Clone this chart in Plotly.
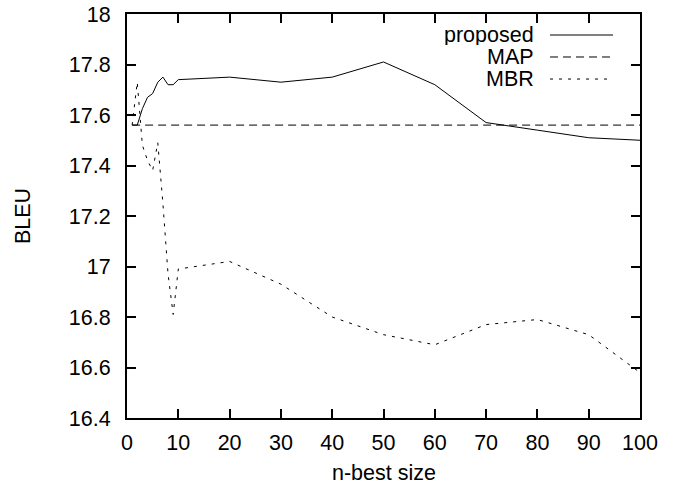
import plotly.graph_objects as go

# ---- data ----
prop_x = [1, 2, 3, 4, 5, 6, 7, 8, 9, 10, 20, 30, 40, 50, 60, 70, 80, 90, 100]
prop_y = [17.56, 17.56, 17.625, 17.67, 17.685, 17.73, 17.75, 17.72, 17.72, 17.74,
          17.75, 17.73, 17.75, 17.81, 17.72, 17.57, 17.54, 17.51, 17.50]

map_x = [1, 100]
map_y = [17.56, 17.56]

mbr_x = [1, 2, 3, 4, 5, 6, 7, 8, 9, 10, 20, 30, 40, 50, 60, 70, 80, 90, 100]
mbr_y = [17.56, 17.73, 17.48, 17.42, 17.38, 17.49, 17.25, 16.97, 16.81, 16.99,
         17.02, 16.93, 16.80, 16.73, 16.69, 16.77, 16.79, 16.73, 16.58]

x_ticks = [0, 10, 20, 30, 40, 50, 60, 70, 80, 90, 100]
y_ticks = [16.4, 16.6, 16.8, 17.0, 17.2, 17.4, 17.6, 17.8, 18.0]
y_tick_text = ["16.4", "16.6", "16.8", "17", "17.2", "17.4", "17.6", "17.8", "18"]

series_names = ["proposed", "MAP", "MBR"]
series_dash = ["solid", "8px,5px", "3px,6px"]

FONT = "Liberation Sans, Arial, sans-serif"
FS = 21.5

fig = go.Figure()
for name, xs, ys, dash in zip(series_names, [prop_x, map_x, mbr_x],
                              [prop_y, map_y, mbr_y], series_dash):
    fig.add_trace(go.Scatter(x=xs, y=ys, mode="lines", name=name,
                             line=dict(color="black", width=1, dash=dash),
                             showlegend=False, hoverinfo="skip"))

# gnuplot-style legend: text on the left, line sample on the right
leg_y = [0.948, 0.8936, 0.839]
for name, dash, ly in zip(series_names, series_dash, leg_y):
    fig.add_annotation(xref="paper", yref="paper", x=0.795, y=ly, text=name,
                       showarrow=False, xanchor="right", yanchor="middle",
                       height=20, borderpad=0,
                       font=dict(family=FONT, size=FS, color="black"))
    fig.add_shape(type="line", xref="paper", yref="paper",
                  x0=0.8246, x1=0.9474, y0=ly, y1=ly,
                  line=dict(color="black", width=1, dash=dash))

fig.add_annotation(xref="paper", yref="paper", x=-0.2027, y=0.5, text="BLEU",
                   showarrow=False, textangle=-90, xanchor="center", yanchor="middle",
                   font=dict(family=FONT, size=FS, color="black"))
fig.add_annotation(xref="paper", yref="paper", x=0.5, y=-0.1361, text="n-best size",
                   showarrow=False, xanchor="center", yanchor="middle",
                   height=22, borderpad=0,
                   font=dict(family=FONT, size=FS, color="black"))

axis_common = dict(showline=True, linecolor="black", linewidth=2, mirror="allticks",
                   ticks="inside", ticklen=9, tickwidth=2, tickcolor="black",
                   showgrid=False, zeroline=False, automargin=False,
                   tickfont=dict(family=FONT, size=FS, color="black"))

fig.update_xaxes(range=[0, 100], tickvals=x_ticks, ticklabelstandoff=4, **axis_common)
fig.update_yaxes(range=[16.4, 18.0], tickvals=y_ticks, ticktext=y_tick_text,
                 ticklabelstandoff=10, **axis_common)

fig.update_layout(width=682, height=486,
                  margin=dict(l=127, r=42, t=14, b=68),
                  plot_bgcolor="white", paper_bgcolor="white",
                  hovermode=False,
                  font=dict(family=FONT, size=FS, color="black"))

# remove the browser's default 8px body margin so the figure fills the window
fig.write_html("out.html", config={"displayModeBar": False, "staticPlot": True},
               post_script="document.body.style.margin='0px';")
